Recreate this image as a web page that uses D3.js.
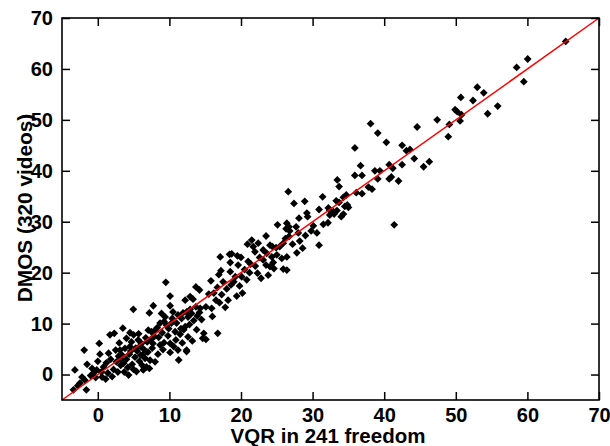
<!DOCTYPE html>
<html>
<head>
<meta charset="utf-8">
<script src="https://cdn.jsdelivr.net/npm/d3@7"></script>
<style>
  body { margin: 0; background: #fff; }
  text { font-family: "Liberation Sans", Arial, sans-serif; font-weight: bold; }
</style>
</head>
<body>
<svg id="chart" width="610" height="446"></svg>
<script>
// VQR (x) and DMOS (y) for each video
var vqr = [
  // x < 3
  -3.4,-2.5,-2.2,-1.8,-1.6,-3.2,-1.5,-1.9,-0.15,-0.6,0.3,0.2,1.5,1.1,1.7,2.3,-1.0,-0.3,0.5,0.8,
  1.2,1.8,2.2,2.6,0.0,-0.8,1.4,2.0,2.9,2.5,3.1,-2.8,0.6,2.8,3.2,3.0,
  // 3..8
  4.3,3.5,4.5,5.0,4.96,4.0,4.7,5.65,6.1,3.8,4.5,6.35,6.8,8.0,7.05,7.5,8.0,6.9,7.7,3.6,
  4.0,4.4,4.8,5.2,5.5,5.8,6.0,6.4,6.6,7.0,7.3,7.6,3.4,5.0,5.4,6.2,7.2,7.75,7.2,4.2,
  3.7,5.9,6.7,7.9,4.6,5.3,3.3,6.5,7.4,5.7,
  // 8..15
  8.7,9.25,10.1,10.6,11.2,12.4,10.1,11.3,12.4,8.7,9.25,9.6,10.3,11.0,11.7,12.2,10.1,10.5,11.2,11.9,
  12.4,12.9,13.7,14.3,15.1,12.2,12.9,13.3,10.1,9.5,13.7,14.2,14.8,14.65,15.1,8.5,9.0,9.8,10.8,11.5,
  12.0,12.8,13.4,13.9,14.5,8.3,9.4,10.4,11.6,12.6,13.2,13.8,14.2,9.1,8.4,10.9,11.8,12.6,13.1,8.9,9.9,
  // 15..25
  16.0,17.8,16.5,17.0,16.7,17.5,17.1,18.4,17.2,16.75,18.7,19.5,18.5,19.6,18.5,19.2,20.1,21.0,21.35,22.3,
  21.5,20.9,21.7,21.95,23.1,23.6,24.3,23.1,23.5,24.05,24.5,23.5,24.05,24.4,24.9,15.5,15.9,16.2,17.3,18.0,
  18.6,19.0,19.8,20.5,20.8,21.2,22.0,22.6,18.2,19.4,20.2,15.8,16.9,22.8,23.8,24.6,20.0,22.4,
  // 25..35
  25.7,26.4,26.4,25.9,25.0,26.2,26.7,25.9,25.4,28.2,30.9,28.6,25.1,26.4,26.7,27.7,26.3,26.8,30.1,29.8,
  30.6,32.15,29.2,29.3,28.1,32.4,33.0,34.0,34.3,30.9,32.2,32.4,32.9,33.4,34.85,35.0,34.5,28.9,27.4,33.3,
  33.7,31.4,34.7,34.3,26.6,33.45,33.7,27.2,28.0,29.0,31.5,27.8,
  // 35+
  36.9,36.1,38.3,35.9,36.9,39.1,40.7,41.0,42.0,36.7,38.7,39.4,40.7,41.2,42.5,41.4,38.1,39.1,40.3,35.9,
  42.5,43.1,43.6,44.2,45.5,46.3,44.6,47.4,49.1,48.95,49.9,50.2,50.8,50.6,50.7,52.4,53.0,53.9,55.85,54.45,
  58.5,59.5,60.04,65.35,37.8
];
var dmos = [
  -3.0,-1.7,-0.5,-1.1,-3.0,0.9,2.0,4.8,0.9,0.3,4.0,6.1,4.2,-0.9,7.8,8.1,-0.2,-0.6,0.5,1.5,
  2.3,3.0,1.0,2.5,2.6,1.2,0.3,-0.4,3.6,4.8,4.8,-2.2,-0.5,0.5,1.8,6.2,
  -0.1,9.1,8.2,7.8,12.8,7.1,6.4,6.8,6.1,5.15,5.5,0.9,1.5,2.5,8.7,8.4,8.7,6.4,6.1,2.2,
  3.0,4.0,2.0,3.4,4.6,2.6,3.8,5.0,3.2,4.4,2.8,5.2,3.8,1.0,0.6,1.8,1.2,13.5,12.1,1.4,
  0.5,5.6,7.2,7.5,4.6,5.2,2.9,4.2,6.9,8.0,
  5.8,6.25,6.1,5.5,4.8,4.5,4.35,2.85,4.8,10.1,10.4,9.7,10.1,10.1,11.0,9.4,13.5,12.3,11.7,12.1,
  12.3,12.8,13.3,13.0,13.3,14.6,15.3,14.8,15.4,18.1,17.2,16.6,8.1,7.1,6.9,7.3,8.2,7.6,8.4,7.9,
  8.8,9.8,10.6,11.5,10.8,9.2,11.3,11.0,9.0,7.4,6.6,8.8,12.2,4.9,4.0,6.8,6.2,11.3,12.0,12.0,9.0,
  11.4,13.2,14.6,14.1,17.1,18.2,23.1,23.6,20.4,8.1,23.7,23.3,22.0,21.5,20.2,19.2,19.2,22.2,21.7,19.9,
  26.4,25.6,25.1,24.1,24.45,23.8,23.1,22.5,21.5,21.2,22.0,27.2,25.4,25.1,24.9,15.8,13.0,16.0,15.7,16.8,
  17.6,18.2,17.4,20.6,18.6,20.0,21.3,23.0,14.6,15.4,16.0,18.4,19.6,18.9,19.5,20.8,23.0,25.8,
  22.8,23.1,20.5,20.7,23.5,26.7,27.1,25.8,25.1,26.2,25.4,24.8,29.4,29.7,29.0,29.0,28.6,28.2,29.2,28.2,
  27.8,29.8,31.7,31.0,30.7,31.3,31.5,31.0,31.5,32.4,32.7,32.2,32.0,32.2,33.3,32.8,33.0,34.0,33.6,34.1,
  33.8,34.9,35.25,34.8,35.9,38.2,36.9,25.6,27.8,27.3,29.5,23.9,
  35.5,35.7,36.4,39.1,39.1,38.4,38.4,38.8,38.0,41.0,40.0,40.0,41.2,40.5,41.2,29.4,49.25,47.4,45.6,44.5,
  45.0,43.95,44.2,42.4,40.8,41.8,48.6,50.0,49.1,46.7,52.0,51.6,51.0,49.8,54.4,53.8,56.4,55.3,52.7,51.2,
  60.3,57.5,61.95,65.4,36.8
];
var xTicks = [0, 10, 20, 30, 40, 50, 60, 70];
var yTicks = [0, 10, 20, 30, 40, 50, 60, 70];
var domain = [-5, 70];

(function(){
  var svg = d3.select("#chart"),
      pl = 62, pr = 599, pt = 18, pb = 400;

  var x = d3.scaleLinear().domain(domain).range([pl, pr]);
  var y = d3.scaleLinear().domain(domain).range([pb, pt]);

  var points = vqr.map(function(v, i){ return {x: v, y: dmos[i]}; });

  // diamonds
  var r = 3.9;
  svg.append("g")
      .attr("class", "points")
      .selectAll("path")
      .data(points)
      .enter()
      .append("path")
      .attr("transform", function(d){ return "translate(" + x(d.x) + "," + y(d.y) + ")"; })
      .attr("d", "M0," + (-r) + "L" + r + ",0L0," + r + "L" + (-r) + ",0Z")
      .attr("fill", "#000");

  // identity line
  svg.append("line")
      .attr("x1", x(domain[0])).attr("y1", y(domain[0]))
      .attr("x2", x(domain[1])).attr("y2", y(domain[1]))
      .attr("stroke", "#ff0000")
      .attr("stroke-width", 1.5);

  // axes, ticks pointing inward
  var fs = 20;
  var gx = svg.append("g").attr("transform", "translate(0," + pb + ")")
      .call(d3.axisBottom(x).tickValues(xTicks).tickSizeInner(-8).tickSizeOuter(0).tickPadding(8));
  var gy = svg.append("g").attr("transform", "translate(" + pl + ",0)")
      .call(d3.axisLeft(y).tickValues(yTicks).tickSizeInner(-8).tickSizeOuter(0).tickPadding(9));
  var gt = svg.append("g").attr("transform", "translate(0," + pt + ")")
      .call(d3.axisTop(x).tickValues(xTicks).tickSizeInner(-8).tickSizeOuter(0).tickFormat(""));
  var gr = svg.append("g").attr("transform", "translate(" + pr + ",0)")
      .call(d3.axisRight(y).tickValues(yTicks).tickSizeInner(-8).tickSizeOuter(0).tickFormat(""));

  [gx, gy, gt, gr].forEach(function(g){
    g.select(".domain").remove();
    g.selectAll("line").attr("stroke", "#000").attr("stroke-width", 1.5);
    g.selectAll("text")
      .attr("fill", "#000")
      .style("font-family", "'Liberation Sans', Arial, sans-serif")
      .style("font-weight", "bold")
      .style("font-size", fs + "px");
  });

  svg.append("rect")
      .attr("x", pl).attr("y", pt)
      .attr("width", pr - pl).attr("height", pb - pt)
      .attr("fill", "none")
      .attr("stroke", "#000")
      .attr("stroke-width", 1.6);

  svg.append("text")
      .attr("x", 328).attr("y", 443)
      .attr("text-anchor", "middle")
      .style("font-size", "20.5px")
      .text("VQR in 241 freedom");

  svg.append("text")
      .attr("transform", "translate(32,208) rotate(-90)")
      .attr("text-anchor", "middle")
      .style("font-size", "20.8px")
      .text("DMOS (320 videos)");
})();
</script>
</body>
</html>
